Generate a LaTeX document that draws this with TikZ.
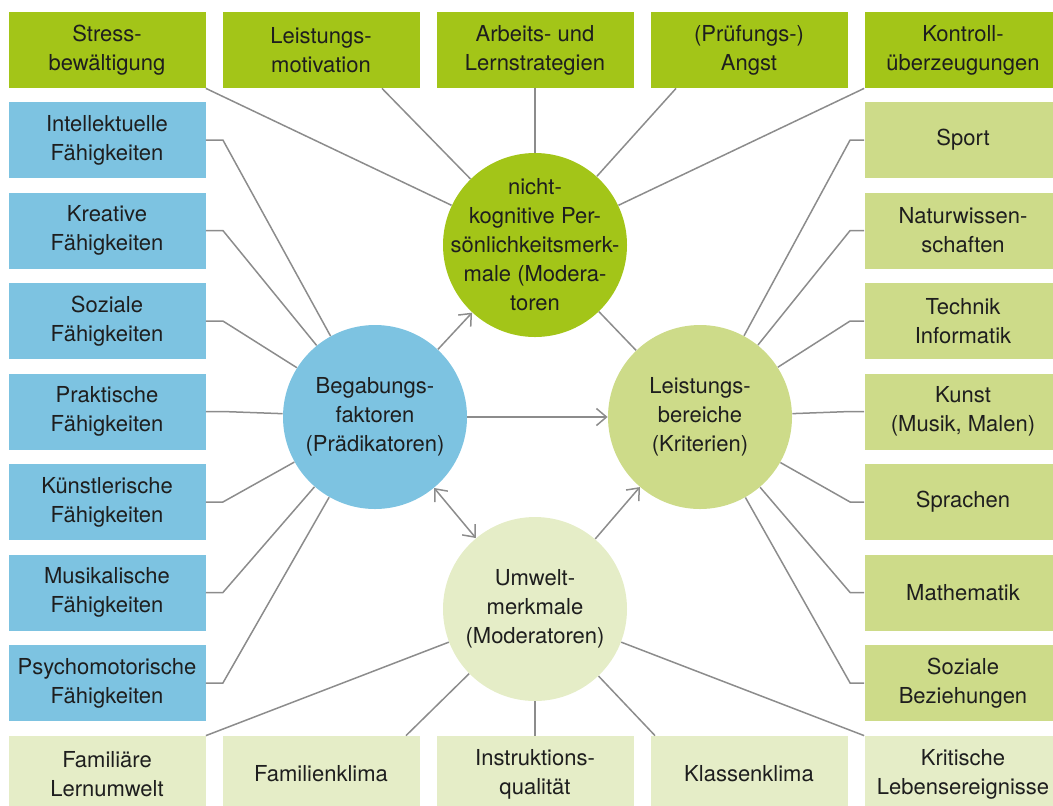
\documentclass[tikz,border=0pt]{standalone}
\usepackage{fontspec}
\setmainfont{TeX Gyre Heros}
\usetikzlibrary{arrows.meta}
\definecolor{gruenDunkel}{HTML}{A3C518}
\definecolor{gruenMittel}{HTML}{CDDB89}
\definecolor{gruenHell}{HTML}{E5EDC7}
\definecolor{blauBox}{HTML}{7DC3E1}
\definecolor{linie}{HTML}{8C8C8C}
\definecolor{schrift}{HTML}{1E1E1E}

\begin{document}
\begin{tikzpicture}[x=0.5pt, y=-0.5pt,
        font=\fontsize{11}{14.5}\selectfont, text=schrift,
        kasten/.style={rectangle, minimum width=98.5pt, minimum height=38pt, inner sep=0pt, align=center},
        kreis/.style={circle, minimum size=92pt, inner sep=-20pt, align=center},
        verb/.style={draw=linie, line width=0.75pt},
        pfeil/.style={verb, -{Straight Barb[length=5pt, width=8.5pt]}},
        doppelpfeil/.style={verb, {Straight Barb[length=5pt, width=8.5pt]}-{Straight Barb[length=5pt, width=8.5pt]}}]
                \path[use as bounding box, clip](0, 0) rectangle (1053, 805);

                \node[kasten, fill=gruenDunkel](stress) at (107, 50){Stress-\\bewältigung};
                \node[kasten, fill=gruenDunkel](leistmot) at (321, 50){Leistungs-\\motivation};
                \node[kasten, fill=gruenDunkel](arbeit) at (535, 50){Arbeits- und\\Lernstrategien};
                \node[kasten, fill=gruenDunkel](pruef) at (749, 50){(Prüfungs-)\\Angst};
                \node[kasten, fill=gruenDunkel](kontroll) at (963, 50){Kontroll-\\überzeugungen};

                \node[kasten, fill=blauBox](intell) at (107, 140){Intellektuelle\\Fähigkeiten};
                \node[kasten, fill=blauBox](kreativ) at (107, 230.5){Kreative\\Fähigkeiten};
                \node[kasten, fill=blauBox](sozial) at (107, 321){Soziale\\Fähigkeiten};
                \node[kasten, fill=blauBox](prakt) at (107, 411.5){Praktische\\Fähigkeiten};
                \node[kasten, fill=blauBox](kuenstl) at (107, 502){Künstlerische\\Fähigkeiten};
                \node[kasten, fill=blauBox](musik) at (107, 592.5){Musikalische\\Fähigkeiten};
                \node[kasten, fill=blauBox](psycho) at (107, 683){Psychomotorische\\Fähigkeiten};

                \node[kasten, fill=gruenMittel](sport) at (963, 140){Sport};
                \node[kasten, fill=gruenMittel](natur) at (963, 230.5){Naturwissen-\\schaften};
                \node[kasten, fill=gruenMittel](technik) at (963, 321){Technik\\Informatik};
                \node[kasten, fill=gruenMittel](kunst) at (963, 411.5){Kunst\\(Musik, Malen)};
                \node[kasten, fill=gruenMittel](sprachen) at (963, 502){Sprachen};
                \node[kasten, fill=gruenMittel](mathe) at (963, 592.5){Mathematik};
                \node[kasten, fill=gruenMittel](bezieh) at (963, 683){Soziale\\Beziehungen};

                \node[kasten, fill=gruenHell](famlern) at (107, 774){Familiäre\\Lernumwelt};
                \node[kasten, fill=gruenHell](famklima) at (321, 774){Familienklima};
                \node[kasten, fill=gruenHell](instr) at (535, 774){Instruktions-\\qualität};
                \node[kasten, fill=gruenHell](klasse) at (749, 774){Klassenklima};
                \node[kasten, fill=gruenHell](kritisch) at (963, 774){Kritische\\Lebensereignisse};

                \node[kreis, fill=gruenDunkel](nicht) at (535, 245){nicht-\\kognitive Per-\\sönlichkeitsmerk-\\male (Modera-\\toren};
                \node[kreis, fill=blauBox](begab) at (375, 417){Begabungs-\\faktoren\\(Prädikatoren)};
                \node[kreis, fill=gruenMittel](leist) at (700, 417){Leistungs-\\bereiche\\(Kriterien)};
                \node[kreis, fill=gruenHell](umwelt) at (535, 609){Umwelt-\\merkmale\\(Moderatoren)};

                \draw[verb](stress.south east)--(nicht);
                \draw[verb]([xshift=30.5pt]leistmot.south)--(nicht);
                \draw[verb](arbeit.south)--(nicht);
                \draw[verb]([xshift=-36.5pt]pruef.south)--(nicht);
                \draw[verb](kontroll.south west)--(nicht);

                \draw[verb](intell.east)--++(17, 0)--(begab);
                \draw[verb](kreativ.east)--++(17, 0)--(begab);
                \draw[verb](sozial.east)--++(17, 0)--(begab);
                \draw[verb](prakt.east)--++(17, 0)--(begab);
                \draw[verb](kuenstl.east)--++(17, 0)--(begab);
                \draw[verb](musik.east)--++(17, 0)--(begab);
                \draw[verb](psycho.east)--++(17, 0)--(begab);

                \draw[verb](sport.west)--++(-14, 0)--(leist);
                \draw[verb](natur.west)--++(-14, 0)--(leist);
                \draw[verb](technik.west)--++(-14, 0)--(leist);
                \draw[verb](kunst.west)--++(-14, 0)--(leist);
                \draw[verb](sprachen.west)--++(-14, 0)--(leist);
                \draw[verb](mathe.west)--++(-14, 0)--(leist);
                \draw[verb](bezieh.west)--++(-14, 0)--(leist);

                \draw[verb](famlern.north east)--(umwelt);
                \draw[verb]([xshift=42.5pt]famklima.north)--(umwelt);
                \draw[verb](instr.north)--(umwelt);
                \draw[verb]([xshift=-47pt]klasse.north)--(umwelt);
                \draw[verb](kritisch.north west)--(umwelt);

                \draw[pfeil](begab)--(nicht);
                \draw[pfeil](begab)--(leist);
                \draw[doppelpfeil](begab)--(umwelt);
                \draw[pfeil](umwelt)--(leist);
                \draw[verb](nicht)--(leist);
\end{tikzpicture}
\end{document}
